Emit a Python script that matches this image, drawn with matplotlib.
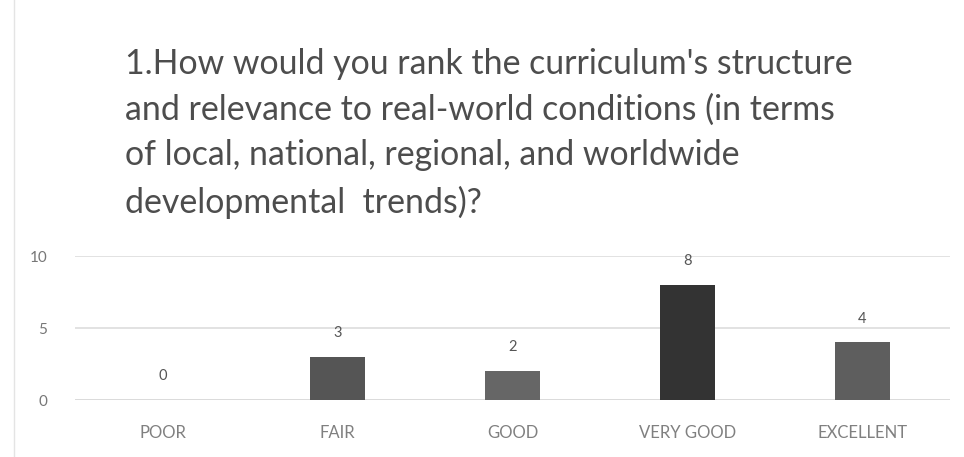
import matplotlib
matplotlib.use("Agg")
import matplotlib.pyplot as plt
import numpy as np

# survey answers
categories = ["POOR", "FAIR", "GOOD", "VERY GOOD", "EXCELLENT"]
counts = [0, 3, 2, 8, 4]
bar_colors = ["#5a5a5a", "#555555", "#666666", "#333333", "#5e5e5e"]
yticks = [0, 5, 10]

title = ("1.How would you rank the curriculum's structure\n"
         "and relevance to real-world conditions (in terms\n"
         "of local, national, regional, and worldwide\n"
         "developmental  trends)?")

W, H = 964, 457
fig = plt.figure(figsize=(W / 100, H / 100), dpi=100)
fig.patch.set_facecolor("white")

# axes placed in pixel terms: x 75..950, y 0 at 400, 10 at 256
left, right = 75, 950
bottom, top = 400, 256
ax = fig.add_axes([left / W, 1 - bottom / H, (right - left) / W, (bottom - top) / H])

x = np.arange(len(categories))
ax.bar(x, counts, width=0.31, color=bar_colors, zorder=3)
for xi, v in zip(x, counts):
    ax.text(xi, v + 1.65, str(v), ha="center", va="center", fontsize=10.5,
            color="#555555", family="Lato")

ax.set_xlim(-0.5, len(categories) - 0.5)
ax.set_ylim(0, 10)
ax.set_yticks(yticks)
ax.set_yticklabels([str(t) for t in yticks], fontsize=11, color="#777777",
                   family="Lato")
ax.set_xticks(x)
ax.set_xticklabels(categories, fontsize=12, color="#808080", family="Lato")
ax.tick_params(axis="x", length=0, pad=18)
ax.tick_params(axis="y", length=0, pad=20)
ax.yaxis.grid(True, color="#dddddd", linewidth=1.2, zorder=0)
for s in ax.spines.values():
    s.set_visible(False)
ax.axhline(0, color="#cfcfcf", linewidth=1.2, zorder=1)

fig.text(125 / W, 1 - 48 / H, title, ha="left", va="top", fontsize=24.4,
         color="#4d4d4d", family="Lato", linespacing=1.52)

# faint scan edge on the left
fig.add_artist(plt.Line2D([14 / W, 14 / W], [0.0, 1.0], color="#e4e4e4", linewidth=1))

fig.savefig("out.png", dpi=100)
